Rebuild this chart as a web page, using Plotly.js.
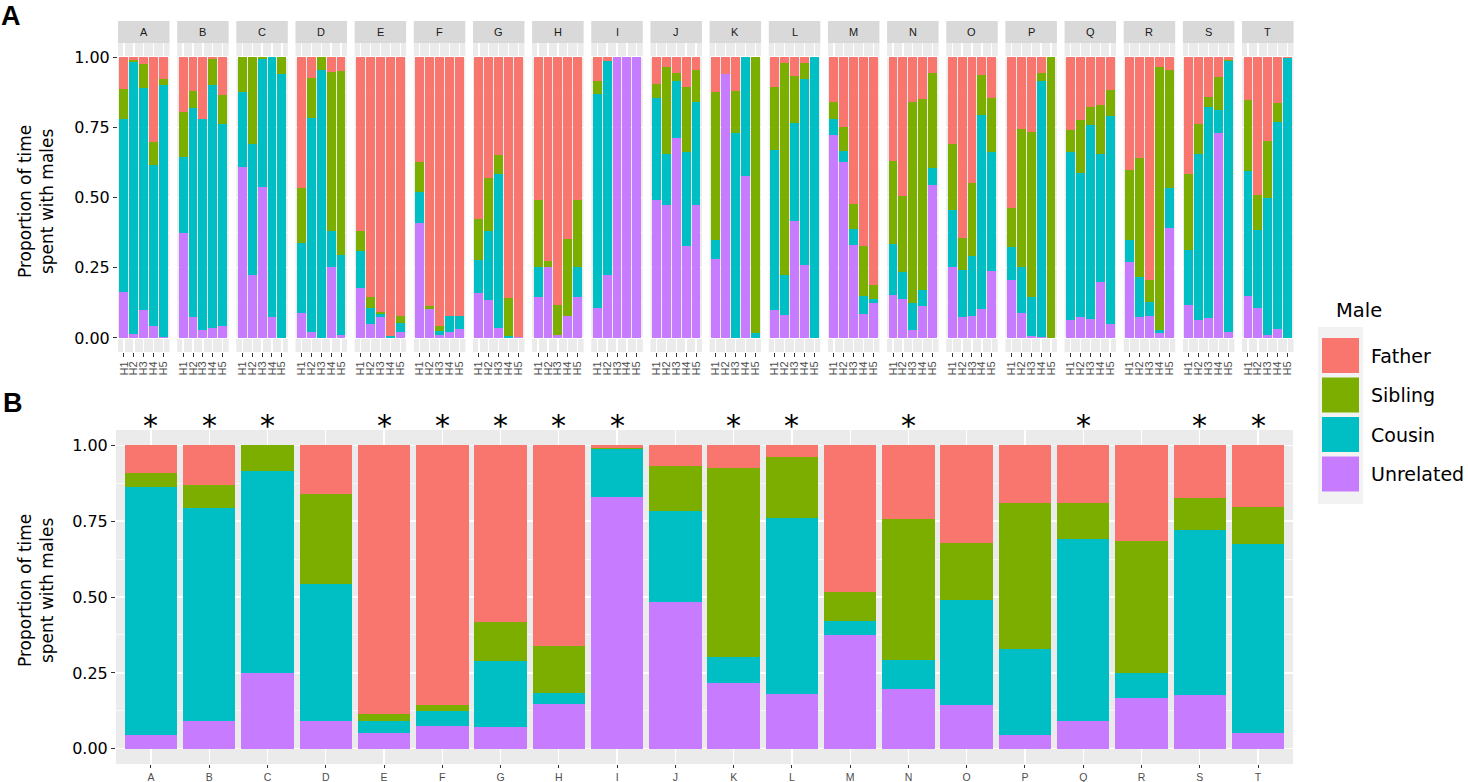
<!DOCTYPE html>
<html>
<head>
<script src="https://cdn.plot.ly/plotly-3.0.1.min.js"></script>
<style>body{margin:0;background:#fff}</style>
</head>
<body>
<div id="plot" style="width:1468px;height:782px"></div>
<script>
// groups and house labels
var groups = ['A','B','C','D','E','F','G','H','I','J','K','L','M','N','O','P','Q','R','S','T'];
var houses = ['H1','H2','H3','H4','H5'];
var males = ['Unrelated','Cousin','Sibling','Father'];
var starred = ['A','B','C','E','F','G','H','I','K','L','N','Q','S','T'];

// panel A: proportion per house, one row per group
var unrelatedA = [
  [.165,.014,.099,.044,.005],[.373,.075,.028,.035,.044],[.609,.223,.537,.075,0],[.088,.020,0,.251,.012],
  [.178,.049,.073,0,.022],[.411,.104,.012,.020,.033],[.161,.134,.037,0,.005],[.146,.254,.012,.078,.146],
  [.107,.225,1,1,1],[.491,.472,.711,.326,.474],[.282,.941,0,.577,0],[.099,.081,.417,.259,0],
  [.724,.627,.332,.085,.126],[.152,.140,.027,.113,.544],[.254,.073,.077,.104,.240],[.208,.090,.008,.005,0],
  [.064,.075,.069,.198,.049],[.272,.075,.079,.016,.392],[.118,.064,.072,.730,.021],[.148,.105,.011,.031,0]
];
var cousinA = [
  [.615,.968,.790,.571,.897],[.272,.745,.753,.864,.716],[.267,.468,.456,.925,.941],[.249,.762,.954,.131,.284],
  [.131,.056,.011,.007,.033],[.107,0,.013,.059,.046],[.115,.245,.547,.007,0],[.108,0,0,0,.108],
  [.760,.760,0,0,0],[.365,.183,.203,.335,.365],[.068,0,.731,.423,.019],[.569,.143,.350,.662,1],
  [.055,.038,.057,.065,.012],[.184,.094,.099,.058,.061],[.201,.168,.213,.691,.423],[.115,.163,.139,.911,0],
  [.599,.512,.690,.458,.740],[.078,.143,.048,.012,.143],[.196,.592,.749,.083,.965],[.448,.281,.486,.739,.998]
];
var siblingA = [
  [.108,.006,.087,.081,.021],[.159,.060,0,.094,.105],[.124,.309,.007,0,.059],[.198,.143,.046,.565,.653],
  [.073,.041,.007,0,.022],[.110,.010,.017,0,0],[.149,.191,.066,.137,0],[.237,.019,.107,.275,.237],
  [.046,0,0,0,0],[.049,.311,.031,.234,.115],[.526,0,.149,0,.981],[.224,.756,.165,.059,0],
  [.062,.086,.089,.176,.050],[.293,.272,.715,.681,.338],[.234,.116,.262,.140,.190],[.141,.490,.586,.029,1],
  [.077,.189,.062,.172,.092],[.248,.423,.079,.935,.420],[.268,.105,.036,.117,.005],[.250,.123,.205,.067,0]
];
var fatherA = [
  [.112,.012,.024,.304,.077],[.196,.120,.219,.007,.135],[0,0,0,0,0],[.465,.075,0,.053,.051],
  [.618,.854,.909,.993,.923],[.372,.886,.958,.921,.921],[.575,.430,.350,.856,.995],[.509,.727,.881,.647,.509],
  [.087,.015,0,0,0],[.095,.034,.055,.105,.046],[.124,.059,.120,0,0],[.108,.020,.068,.020,0],
  [.159,.249,.522,.674,.812],[.371,.494,.159,.148,.057],[.311,.643,.448,.065,.147],[.536,.257,.267,.055,0],
  [.260,.224,.179,.172,.119],[.402,.359,.794,.037,.045],[.418,.239,.143,.070,.009],[.154,.491,.298,.163,.002]
];

// panel B: pooled proportion per group
var unrelatedB = [.045,.091,.250,.092,.053,.076,.073,.146,.828,.484,.216,.179,.375,.197,.145,.047,.091,.167,.176,.051];
var cousinB    = [.818,.701,.665,.451,.038,.048,.216,.037,.158,.299,.087,.580,.045,.096,.345,.283,.600,.084,.545,.622];
var siblingB   = [.046,.078,.085,.296,.024,.021,.128,.155,.005,.148,.623,.203,.096,.464,.188,.479,.120,.435,.105,.125];
var fatherB    = [.091,.130,0,.161,.885,.855,.583,.662,.009,.069,.074,.038,.484,.243,.322,.191,.189,.314,.174,.202];

var colors = {Father:'#F8766D', Sibling:'#7CAE00', Cousin:'#00BFC4', Unrelated:'#C77CFF'};
var seriesA = {Unrelated:unrelatedA, Cousin:cousinA, Sibling:siblingA, Father:fatherA};
var seriesB = {Unrelated:unrelatedB, Cousin:cousinB, Sibling:siblingB, Father:fatherB};

var W = 1468, H = 782;
function px(x){ return x / W; }
function py(y){ return 1 - y / H; }

var bigFont = 'DejaVu Sans, Verdana, sans-serif';
var smallFont = 'Liberation Sans, Arial, sans-serif';

var yTicks = {
  tickmode:'array', tickvals:[0,.25,.5,.75,1], ticktext:['0.00','0.25','0.50','0.75','1.00'],
  ticks:'outside', ticklen:4, tickcolor:'#333333', tickwidth:1,
  gridcolor:'#FFFFFF', gridwidth:1.3, zeroline:false, showline:false,
  minor:{tickvals:[.125,.375,.625,.875], showgrid:true, gridcolor:'#FFFFFF', gridwidth:0.6, ticks:''},
  range:[-0.05,1.05], fixedrange:true
};

var data = [];
var layout = {
  width:W, height:H, margin:{l:0,r:0,t:0,b:0},
  paper_bgcolor:'#FFFFFF', plot_bgcolor:'#EBEBEB',
  barmode:'stack', bargap:0.1, showlegend:false,
  shapes:[], annotations:[]
};

// panel A facets
var facetLeft = 118, facetStep = 59.16, facetWidth = 51.5;
var aTop = 43, aBottom = 352;
groups.forEach(function(g, i){
  var n = i + 1;
  var xa = 'x' + (n === 1 ? '' : n), ya = 'y' + (n === 1 ? '' : n);
  var left = facetLeft + i * facetStep, right = left + facetWidth;
  males.forEach(function(m){
    data.push({type:'bar', x:houses, y:seriesA[m][i], xaxis:xa, yaxis:ya, name:m,
      marker:{color:colors[m], line:{width:0}}, hoverinfo:'skip'});
  });
  layout['xaxis' + (n === 1 ? '' : n)] = {
    domain:[px(left), px(right)], anchor:ya, type:'category', range:[-0.6,4.6],
    tickmode:'array', tickvals:houses, ticktext:houses,
    tickangle:-90, ticks:'outside', ticklen:4, tickcolor:'#333333',
    tickfont:{family:smallFont, size:11, color:'#4D4D4D'},
    showgrid:true, gridcolor:'#FFFFFF', gridwidth:1.3, zeroline:false, fixedrange:true
  };
  var yax = Object.assign({}, yTicks, {
    domain:[py(aBottom), py(aTop)], anchor:xa,
    showticklabels: n === 1, ticks: n === 1 ? 'outside' : '',
    tickfont:{family:bigFont, size:16, color:'#000000'}
  });
  layout['yaxis' + (n === 1 ? '' : n)] = yax;
  // strip
  layout.shapes.push({type:'rect', xref:'paper', yref:'paper', x0:px(left), x1:px(right),
    y0:py(aTop), y1:py(21), fillcolor:'#D9D9D9', line:{width:0}});
  layout.annotations.push({xref:'paper', yref:'paper', x:px((left+right)/2), y:py(32),
    xanchor:'center', yanchor:'middle',
    text:g, showarrow:false, font:{family:smallFont, size:11, color:'#1A1A1A'}});
});

// panel B
var bLeft = 116, bRight = 1293, bTop = 430, bBottom = 764;
males.forEach(function(m){
  data.push({type:'bar', x:groups, y:seriesB[m], xaxis:'x21', yaxis:'y21', name:m,
    marker:{color:colors[m], line:{width:0}}, hoverinfo:'skip'});
});
layout.xaxis21 = {
  domain:[px(bLeft), px(bRight)], anchor:'y21', type:'category', range:[-0.6,19.6],
  tickmode:'array', tickvals:groups, ticktext:groups,
  ticks:'outside', ticklen:3, tickcolor:'#333333',
  tickfont:{family:smallFont, size:10.5, color:'#4D4D4D'},
  showgrid:true, gridcolor:'#FFFFFF', gridwidth:1.3, zeroline:false, fixedrange:true
};
layout.yaxis21 = Object.assign({}, yTicks, {
  domain:[py(bBottom), py(bTop)], anchor:'x21',
  tickfont:{family:bigFont, size:16, color:'#000000'}
});

starred.forEach(function(g){
  layout.annotations.push({xref:'x21', yref:'paper', x:g, y:py(445), xanchor:'center', yanchor:'bottom',
    text:'*', showarrow:false, font:{family:bigFont, size:30, color:'#000000'}});
});

// axis titles and panel tags
[202, 591].forEach(function(c){
  layout.annotations.push({xref:'paper', yref:'paper', x:px(36), y:py(c), textangle:-90,
    xanchor:'center', yanchor:'middle',
    text:'Proportion of time<br>spent with males', showarrow:false,
    font:{family:bigFont, size:17, color:'#000000'}});
});
layout.annotations.push({xref:'paper', yref:'paper', x:px(11), y:py(16), xanchor:'center', yanchor:'middle',
  text:'<b>A</b>', showarrow:false, font:{family:smallFont, size:27, color:'#000000'}});
layout.annotations.push({xref:'paper', yref:'paper', x:px(13), y:py(403), xanchor:'center', yanchor:'middle',
  text:'<b>B</b>', showarrow:false, font:{family:smallFont, size:27, color:'#000000'}});

// legend (drawn by hand to get ggplot-sized keys)
layout.annotations.push({xref:'paper', yref:'paper', x:px(1334), y:py(310), xanchor:'left', yanchor:'middle',
  text:'Male', showarrow:false, font:{family:bigFont, size:19.5, color:'#000000'}});
layout.shapes.push({type:'rect', xref:'paper', yref:'paper', x0:px(1318), x1:px(1363),
  y0:py(504), y1:py(327), fillcolor:'#F2F2F2', line:{width:0}});
['Father','Sibling','Cousin','Unrelated'].forEach(function(m, k){
  var top = 338 + k * 39.5, bot = top + 35;
  layout.shapes.push({type:'rect', xref:'paper', yref:'paper', x0:px(1322), x1:px(1359),
    y0:py(bot), y1:py(top), fillcolor:colors[m], line:{width:0}});
  layout.annotations.push({xref:'paper', yref:'paper', x:px(1369), y:py((top+bot)/2), xanchor:'left', yanchor:'middle',
    text:m, showarrow:false, font:{family:bigFont, size:19, color:'#000000'}});
});

Plotly.newPlot('plot', data, layout, {staticPlot:true});
</script>
</body>
</html>
